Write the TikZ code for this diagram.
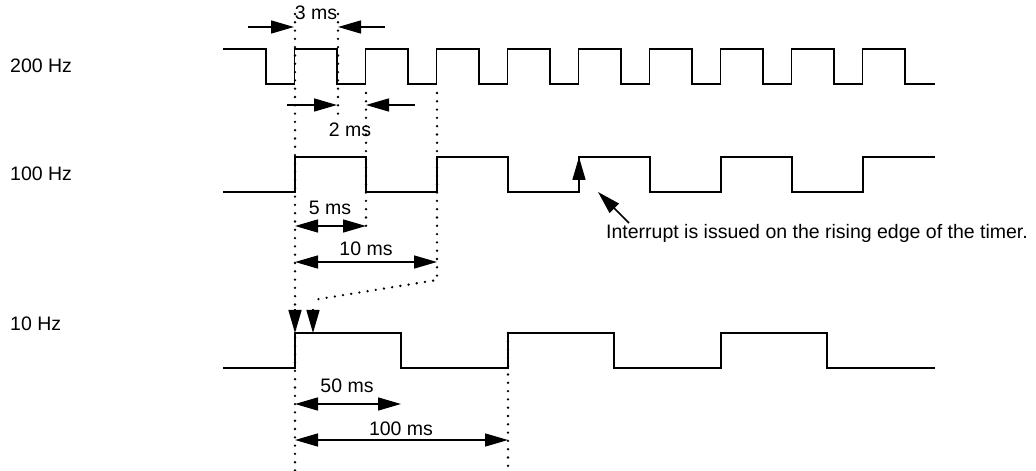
\documentclass[tikz,border=0pt]{standalone}
\usepackage{fontspec}
\setmainfont{Liberation Sans}
\usetikzlibrary{arrows.meta}
\begin{document}
\begin{tikzpicture}[x=1bp,y=-1bp,
  sig/.style={line width=1.5bp},
  dots/.style={line width=2.6bp, line cap=round, dash pattern=on 0bp off 8.3bp},
  tip/.style={-{Triangle[length=23bp,width=13bp]}, line width=1.5bp},
  dim/.style={{Triangle[length=23bp,width=13bp]}-{Triangle[length=23bp,width=13bp]}, line width=1.5bp},
  lbl/.style={font=\fontsize{19.5bp}{22bp}\selectfont, inner sep=0pt}]
\useasboundingbox (0,0) rectangle (1036,471);
% signals
\draw[sig] (223,49) -- (266,49) -- (266,84)
  foreach \k in {0,...,8} { -- ({294.5+71*\k},84) -- ({294.5+71*\k},49) -- ({337+71*\k},49) -- ({337+71*\k},84) } -- (935,84);
\draw[sig] (223,192)
  foreach \k in {0,...,3} { -- ({295+142*\k},192) -- ({295+142*\k},157) -- ({366+142*\k},157) -- ({366+142*\k},192) }
  -- (863,192) -- (863,157) -- (935,157);
\draw[sig] (223,368)
  foreach \k in {0,1,2} { -- ({295+213*\k},368) -- ({295+213*\k},333) -- ({401+213*\k},333) -- ({401+213*\k},368) }
  -- (935,368);
% labels
\node[lbl, anchor=base west] (l200) at (10,73) {200 Hz};
\node[lbl, anchor=base west] (l100) at (10,181) {100 Hz};
\node[lbl, anchor=base west] (l10) at (10,331) {10 Hz};
% dotted guides
\coordinate (a0) at (295,14);
\coordinate (a1) at (295,471);
\coordinate (b0) at (338,14);
\coordinate (b1) at (338,117);
\coordinate (c0) at (366,93);
\coordinate (c1) at (366,226);
\coordinate (d0) at (437,93);
\coordinate (d1) at (437,280);
\coordinate (d2) at (313,300);
\coordinate (e0) at (508,333);
\coordinate (e1) at (508,471);
\draw[dots] (a0) -- (a1);
\draw[dots] (b0) -- (b1);
\draw[dots] (c0) -- (c1);
\draw[dots] (d0) -- (d1) -- (d2);
\draw[dots] (e0) -- (e1);
% arrowheads on 10 Hz edge
\coordinate (t1a) at (295,309);
\coordinate (t1b) at (295,333);
\coordinate (t2a) at (313,309);
\coordinate (t2b) at (313,333);
\draw[tip] (t1a) -- (t1b);
\draw[tip] (t2a) -- (t2b);
% 3 ms
\node[lbl, anchor=base] (m3) at (316,20) {3 ms};
\coordinate (p3l) at (248,27);
\coordinate (q3l) at (294,27);
\coordinate (p3r) at (385,27);
\coordinate (q3r) at (338,27);
\draw[tip] (p3l) -- (q3l);
\draw[tip] (p3r) -- (q3r);
% 2 ms
\node[lbl, anchor=base] (m2) at (350,137) {2 ms};
\coordinate (p2l) at (287,105);
\coordinate (q2l) at (337,105);
\coordinate (p2r) at (415,105);
\coordinate (q2r) at (366,105);
\draw[tip] (p2l) -- (q2l);
\draw[tip] (p2r) -- (q2r);
% 5 / 10 ms
\node[lbl, anchor=base] (m5) at (330,215) {5 ms};
\coordinate (p5a) at (295,226);
\coordinate (p5b) at (366,226);
\draw[dim] (p5a) -- (p5b);
\node[lbl, anchor=base] (m10) at (366,256) {10 ms};
\coordinate (p10a) at (295,262);
\coordinate (p10b) at (437,262);
\draw[dim] (p10a) -- (p10b);
% 50 / 100 ms
\node[lbl, anchor=base] (m50) at (347,393) {50 ms};
\coordinate (p50a) at (295,404);
\coordinate (p50b) at (401,404);
\draw[dim] (p50a) -- (p50b);
\node[lbl, anchor=base] (m100) at (401,435) {100 ms};
\coordinate (p100a) at (295,440);
\coordinate (p100b) at (508,440);
\draw[dim] (p100a) -- (p100b);
% interrupt
\coordinate (ia) at (579,190);
\coordinate (ib) at (579,157);
\draw[tip] (ia) -- (ib);
\node[lbl, anchor=base west] (note) at (606,239) {Interrupt is issued on the rising edge of the timer.};
\coordinate (pa) at (629,223);
\coordinate (pb) at (598,192);
\draw[tip] (pa) -- (pb);
\end{tikzpicture}
\end{document}
